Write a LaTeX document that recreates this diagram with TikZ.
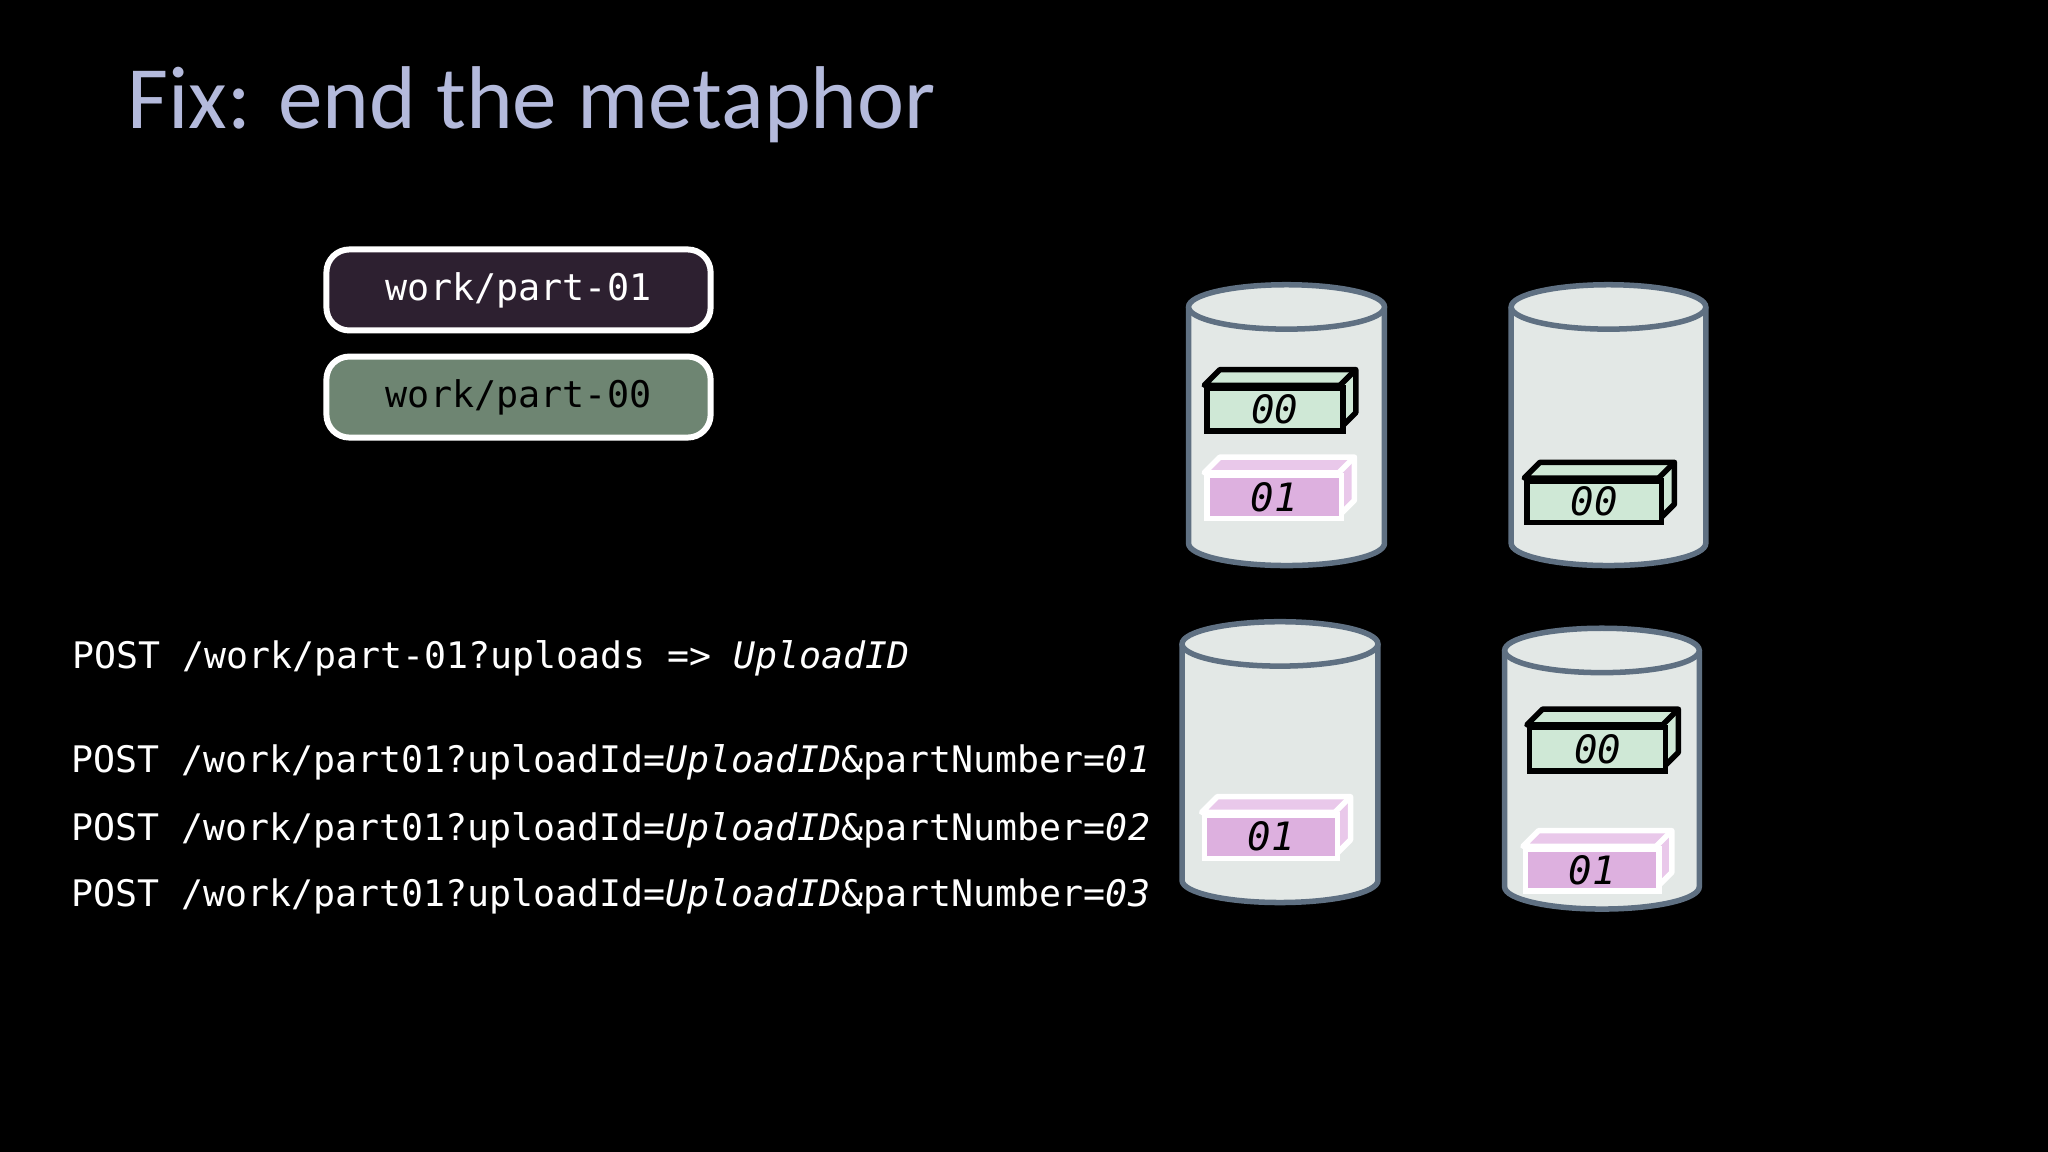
\documentclass[tikz,border=0pt]{standalone}
\usepackage{fontspec}
\setmainfont{Carlito}
\setmonofont{DejaVu Sans Mono}
\definecolor{ttl}{HTML}{B4BADC}
\definecolor{cylf}{HTML}{E3E8E6}
\definecolor{cyls}{HTML}{5F7082}
\definecolor{grn}{HTML}{CFE8D6}
\definecolor{pnk}{HTML}{DDB0DF}
\definecolor{pnks}{HTML}{E9C8EA}
\definecolor{boxa}{HTML}{2D2030}
\definecolor{boxb}{HTML}{6E8572}
\tikzset{
  x=0.01cm,y=-0.01cm,
  mono/.style={font=\ttfamily\fontsize{7.96}{10}\selectfont,text=white,anchor=west,inner sep=0},
  pbox/.style={draw=white,line width=1.3pt,rounded corners=5pt,minimum width=2.94cm,minimum height=0.62cm,font=\ttfamily\fontsize{8}{10}\selectfont},
  cyl/.style={fill=cylf,draw=cyls,line width=1.2pt},
  lbl/.style={font=\ttfamily\itshape\fontsize{8.5}{10}\selectfont,inner sep=0}
}
\newcommand{\mycyl}[4]{%
  \pgfmathsetmacro{\cx}{(#1+#2)/2}\pgfmathsetmacro{\rx}{(#2-#1)/2}%
  \fill[cylf] (#1,#3) -- (#1,#4) arc[start angle=180,end angle=360,x radius=\rx,y radius=-17] -- (#2,#3) -- cycle;
  \draw[cyls,line width=1.2pt] (#1,#3) -- (#1,#4) arc[start angle=180,end angle=360,x radius=\rx,y radius=-17] -- (#2,#3);
  \draw[cyl] (\cx,#3) ellipse[x radius=\rx,y radius=17];
}
\newcommand{\blk}[9]{%
  \fill[#9,draw=#8,line width=1.2pt,line join=round] (#2,#3) -- (#2+12,#3-12) -- (#4+12,#3-12) -- (#4+12,#5-12) -- (#4,#5) -- (#4,#3) -- cycle;
  \draw[#8,line width=1.2pt] (#4,#3) -- (#4+12,#3-12);
  \node[draw=#8,fill=#7,line width=1.2pt,minimum width={(#4-#2)*0.01cm},minimum height={(#5-#3)*0.01cm},inner sep=0,anchor=north west] (#1) at (#2,#3) {};
  \node[lbl] at (#1.center) {#6};
}
\begin{document}
\begin{tikzpicture}
\fill[black] (0,0) rectangle (1568,882);
\useasboundingbox (0,0) rectangle (1568,882);
\node[anchor=west,inner sep=0,text=ttl,font=\fontsize{19.4}{22}\selectfont] (title) at (97,80) {Fix: end the metaphor};
\node[pbox,fill=boxa,text=white] (p1) at (397,222) {work/part-01};
\node[pbox,fill=boxb,text=black] (p0) at (397,304) {work/part-00};

\node[mono] (l1) at (55,504) {POST /work/part-01?uploads => \textit{UploadID}};
\node[mono] (l2) at (54,584) {POST /work/part01?uploadId=\textit{UploadID}\&partNumber=\textit{01}};
\node[mono] (l3) at (54,636) {POST /work/part01?uploadId=\textit{UploadID}\&partNumber=\textit{02}};
\node[mono] (l4) at (54,686) {POST /work/part01?uploadId=\textit{UploadID}\&partNumber=\textit{03}};

\mycyl{910}{1060}{235}{416}
\mycyl{1157}{1306}{235}{416}
\mycyl{905}{1055}{493}{674}
\mycyl{1152}{1301}{498}{679}

\blk{a0}{922}{295}{1026}{328}{00}{grn}{black}{grn}
\blk{a1}{922}{362}{1025}{395}{01}{pnk}{white}{pnks}
\blk{b0}{1167}{366}{1270}{398}{00}{grn}{black}{grn}
\blk{c1}{920}{622}{1022}{655}{01}{pnk}{white}{pnks}
\blk{d0}{1169}{555}{1273}{588}{00}{grn}{black}{grn}
\blk{d1}{1166}{648}{1268}{680}{01}{pnk}{white}{pnks}
\end{tikzpicture}
\end{document}
